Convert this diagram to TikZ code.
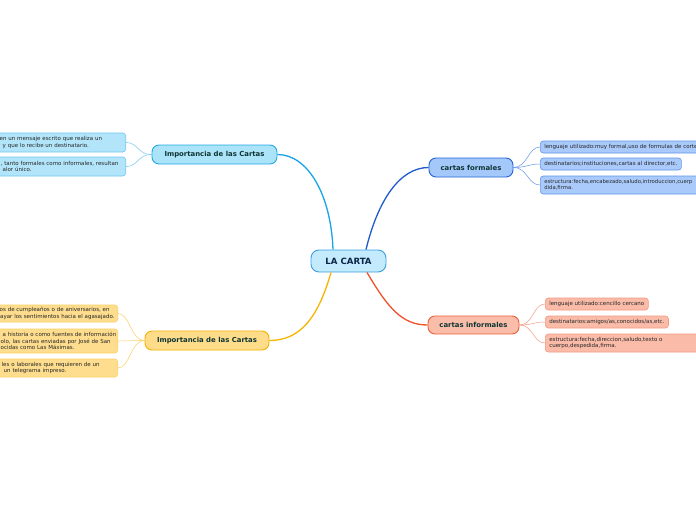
\documentclass[tikz,border=0pt]{standalone}
\usepackage{fontspec}
\setmainfont{DejaVu Sans}
\usetikzlibrary{calc}
\definecolor{cfill}{HTML}{C3EBFD}
\definecolor{cdraw}{HTML}{3A9FE0}
\definecolor{ctext}{HTML}{0B2545}
\definecolor{bfill}{HTML}{ABE3F9}
\definecolor{bdraw}{HTML}{22AAE6}
\definecolor{bcfill}{HTML}{B2E5FA}
\definecolor{bcdraw}{HTML}{70C8EF}
\definecolor{bline}{HTML}{18A4E6}
\definecolor{rfill}{HTML}{A4C8FA}
\definecolor{rdraw}{HTML}{2463D6}
\definecolor{rcfill}{HTML}{A9CAFB}
\definecolor{rcdraw}{HTML}{6296E6}
\definecolor{rline}{HTML}{1F5BCC}
\definecolor{ofill}{HTML}{FEDC8A}
\definecolor{odraw}{HTML}{F2B200}
\definecolor{ocfill}{HTML}{FEDD8E}
\definecolor{ocdraw}{HTML}{FAD063}
\definecolor{oline}{HTML}{F5B500}
\definecolor{pfill}{HTML}{F9BDA9}
\definecolor{pdraw}{HTML}{F0603A}
\definecolor{pcfill}{HTML}{FABCA9}
\definecolor{pcdraw}{HTML}{F39A82}
\definecolor{pline}{HTML}{F0502A}
\definecolor{ttext}{HTML}{0E3533}
\tikzset{
  topic/.style={draw, line width=0.9pt, rounded corners=7pt, inner sep=0pt,
    font=\fontsize{6.9}{8}\selectfont\bfseries, text=ttext, align=center},
  child/.style={draw, line width=0.6pt, rounded corners=3pt, inner xsep=4pt, inner ysep=1pt,
    font=\fontsize{5.5}{6.4}\selectfont, text=black!85, align=left},
  mainline/.style={line width=1.3pt},
  subline/.style={line width=0.5pt},
}
\begin{document}
\begin{tikzpicture}[x=1pt,y=-1pt]
\useasboundingbox (0,0) rectangle (696,520);
\clip (0,0) rectangle (696,520);
\fill[white] (0,0) rectangle (696,520);

% central
\node[topic, fill=cfill, draw=cdraw, text=ctext, minimum width=75pt, minimum height=22pt,
  rounded corners=8pt, font=\fontsize{8.6}{10}\selectfont\bfseries] (c) at (348.5,261) {LA CARTA};

% topics
\node[topic, fill=bfill, draw=bdraw, minimum width=125pt, minimum height=19pt] (tl) at (214.5,154.5) {Importancia de las Cartas};
\node[topic, fill=ofill, draw=odraw, minimum width=124pt, minimum height=19pt] (bl) at (207,340.5) {Importancia de las Cartas};
\node[topic, fill=rfill, draw=rdraw, minimum width=84pt, minimum height=19pt] (tr) at (471,167.5) {cartas formales};
\node[topic, fill=pfill, draw=pdraw, minimum width=91pt, minimum height=18pt] (br) at (473.5,325) {cartas informales};

% main connectors
\draw[mainline, bline] ($(c.north)+(-15.5,0)$) .. controls (331,195) and (308,154.5) .. (tl.east);
\draw[mainline, rline] ($(c.north)+(17.5,0)$) .. controls (378,200) and (400,167.5) .. (tr.west);
\draw[mainline, oline] ($(c.south)+(-17.5,0)$) .. controls (318,318) and (300,340.5) .. (bl.east);
\draw[mainline, pline] ($(c.south)+(18.5,0)$) .. controls (388,308) and (402,325) .. (br.west);

% top-left children
\node[child, fill=bcfill, draw=bcdraw, anchor=east, text width=122pt, minimum height=19pt] (tl1) at (126,142.5)
  {\mbox{en un mensaje escrito que realiza un}\\\mbox{\hspace*{3pt}y que lo recibe un destinatario.}};
\node[child, fill=bcfill, draw=bcdraw, anchor=east, text width=122pt, minimum height=19pt] (tl2) at (126,166.5)
  {\mbox{\hspace*{1pt}, tanto formales como informales, resultan}\\\mbox{\hspace*{3pt}alor único.}};

% bottom-left children
\node[child, fill=ocfill, draw=ocdraw, anchor=east, text width=114pt, minimum height=17pt] (bl1) at (118,313.5)
  {\mbox{os de cumpleaños o de aniversarios, en}\\\mbox{\hspace*{0.5pt}ayar los sentimientos hacia el agasajado.}};
\node[child, fill=ocfill, draw=ocdraw, anchor=east, text width=114pt, minimum height=24pt] (bl2) at (118,341)
  {\mbox{\hspace*{3pt}a historia o como fuentes de información}\\\mbox{\hspace*{1pt}olo, las cartas enviadas por José de San}\\\mbox{\hspace*{1pt}ocidas como Las Máximas.}};
\node[child, fill=ocfill, draw=ocdraw, anchor=east, text width=114pt, minimum height=18pt] (bl3) at (118,368)
  {\mbox{\hspace*{2pt}les o laborales que requieren de un}\\\mbox{\hspace*{4pt}un telegrama impreso.}};

% top-right children
\node[child, fill=rcfill, draw=rcdraw, anchor=west, text width=170pt, minimum height=12pt] (tr1) at (540,147)
  {\mbox{lenguaje utilizado:muy formal,uso de formulas de corte}};
\node[child, fill=rcfill, draw=rcdraw, anchor=west, minimum height=12pt] (tr2) at (540,164)
  {destinatarios;instituciones,cartas al director,etc.};
\node[child, fill=rcfill, draw=rcdraw, anchor=west, text width=170pt, minimum height=18pt,
  font=\fontsize{5.3}{6.4}\selectfont] (tr3) at (540,185)
  {\mbox{estructura:fecha,encabezado,saludo,introduccion,cuerp}\\dida,firma.};

% bottom-right children
\node[child, fill=pcfill, draw=pcdraw, anchor=west, minimum height=12pt] (br1) at (545,304)
  {lenguaje utilizado:cencillo cercano};
\node[child, fill=pcfill, draw=pcdraw, anchor=west, minimum height=12pt] (br2) at (545,322)
  {destinatarios:amigos/as,conocidos/as,etc.};
\node[child, fill=pcfill, draw=pcdraw, anchor=west, text width=170pt, minimum height=18pt] (br3) at (545,343)
  {estructura:fecha,direccion,saludo,texto o\\cuerpo,despedida,firma.};

% sub connectors
\foreach \k in {tl1,tl2}
  \draw[subline, bcdraw] (tl.west) .. controls ($(tl.west)+(-14,0)$) and ($(\k.east)+(12,0)$) .. (\k.east);
\foreach \k in {bl1,bl2,bl3}
  \draw[subline, ocdraw] (bl.west) .. controls ($(bl.west)+(-14,0)$) and ($(\k.east)+(12,0)$) .. (\k.east);
\foreach \k in {tr1,tr2,tr3}
  \draw[subline, rcdraw] (tr.east) .. controls ($(tr.east)+(14,0)$) and ($(\k.west)+(-12,0)$) .. (\k.west);
\foreach \k in {br1,br2,br3}
  \draw[subline, pcdraw] (br.east) .. controls ($(br.east)+(14,0)$) and ($(\k.west)+(-12,0)$) .. (\k.west);
\end{tikzpicture}
\end{document}
